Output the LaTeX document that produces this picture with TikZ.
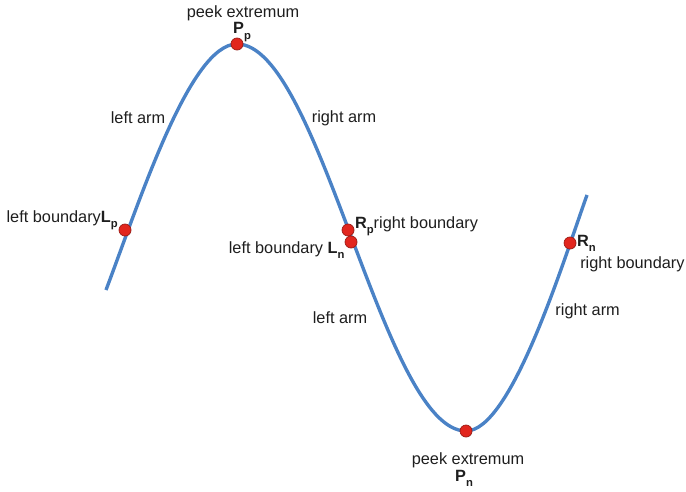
\documentclass[tikz,border=0pt]{standalone}
\usepackage{fontspec}
\setmainfont{Liberation Sans}
\usetikzlibrary{positioning,shadows}
\definecolor{wave}{RGB}{74,130,198}
\definecolor{dotred}{RGB}{226,38,30}
\definecolor{ink}{RGB}{30,30,30}
\newcommand{\ptsub}[2]{\textbf{#1}\raisebox{-0.6ex}{\fontsize{8}{9}\selectfont\textbf{#2}}}
\tikzset{
  curve/.style={draw=wave,line width=2.4pt},
  spot/.style={circle,fill=dotred,draw=dotred!70!black,line width=0.5pt,inner sep=0pt,
    minimum size=3mm,drop shadow={opacity=0.18,shadow xshift=0.4pt,shadow yshift=-0.4pt}},
  lbl/.style={font=\fontsize{11.6}{13}\selectfont,text=ink,inner sep=0pt},
}
\begin{document}
\begin{tikzpicture}
    \useasboundingbox (0,0) rectangle (17.15,-12.3);
    % the wave
    \draw[curve] (2.65,-7.25) .. controls (3.5,-5.0) and (4.75,-1.1) .. (5.925,-1.1)
      .. controls (8.0,-1.1) and (9.575,-10.775) .. (11.65,-10.775)
      .. controls (12.775,-10.775) and (14.05,-6.625) .. (14.675,-4.875);
    % points on the wave
    \node[spot] (Lp) at (3.125,-5.75) {};
    \node[spot] (Pp) at (5.925,-1.1) {};
    \node[spot] (Rp) at (8.7,-5.75) {};
    \node[spot] (Ln) at (8.775,-6.05) {};
    \node[spot] (Pn) at (11.65,-10.775) {};
    \node[spot] (Rn) at (14.25,-6.075) {};
    % positive peak
    \node[lbl] (peakp) at (6.075,-0.325) {peek extremum};
    \node[lbl] (Pplab) at (6.05,-0.8) {\ptsub{P}{p}};
    \node[lbl] at (3.45,-2.95) {left arm};
    \node[lbl] at (8.6,-2.95) {right arm};
    \node[lbl,anchor=base east] (Lplab) at (2.95,-5.55) {left boundary\ptsub{L}{p}};
    \node[lbl,anchor=base west] (Rplab) at (8.87,-5.72) {\ptsub{R}{p}right boundary};
    % negative peak
    \node[lbl,anchor=base east] (Lnlab) at (8.62,-6.33) {left boundary \ptsub{L}{n}};
    \node[lbl] at (8.5,-7.95) {left arm};
    \node[lbl] (peakn) at (11.7,-11.5) {peek extremum};
    \node[lbl] (Pnlab) at (11.6,-11.95) {\ptsub{P}{n}};
    \node[lbl,anchor=base west] (Rnlab) at (14.42,-6.17) {\ptsub{R}{n}};
    \node[lbl,anchor=base west] at (14.5,-6.7) {right boundary};
    \node[lbl,anchor=west] at (13.88,-7.78) {right arm};
  \end{tikzpicture}
\end{document}
